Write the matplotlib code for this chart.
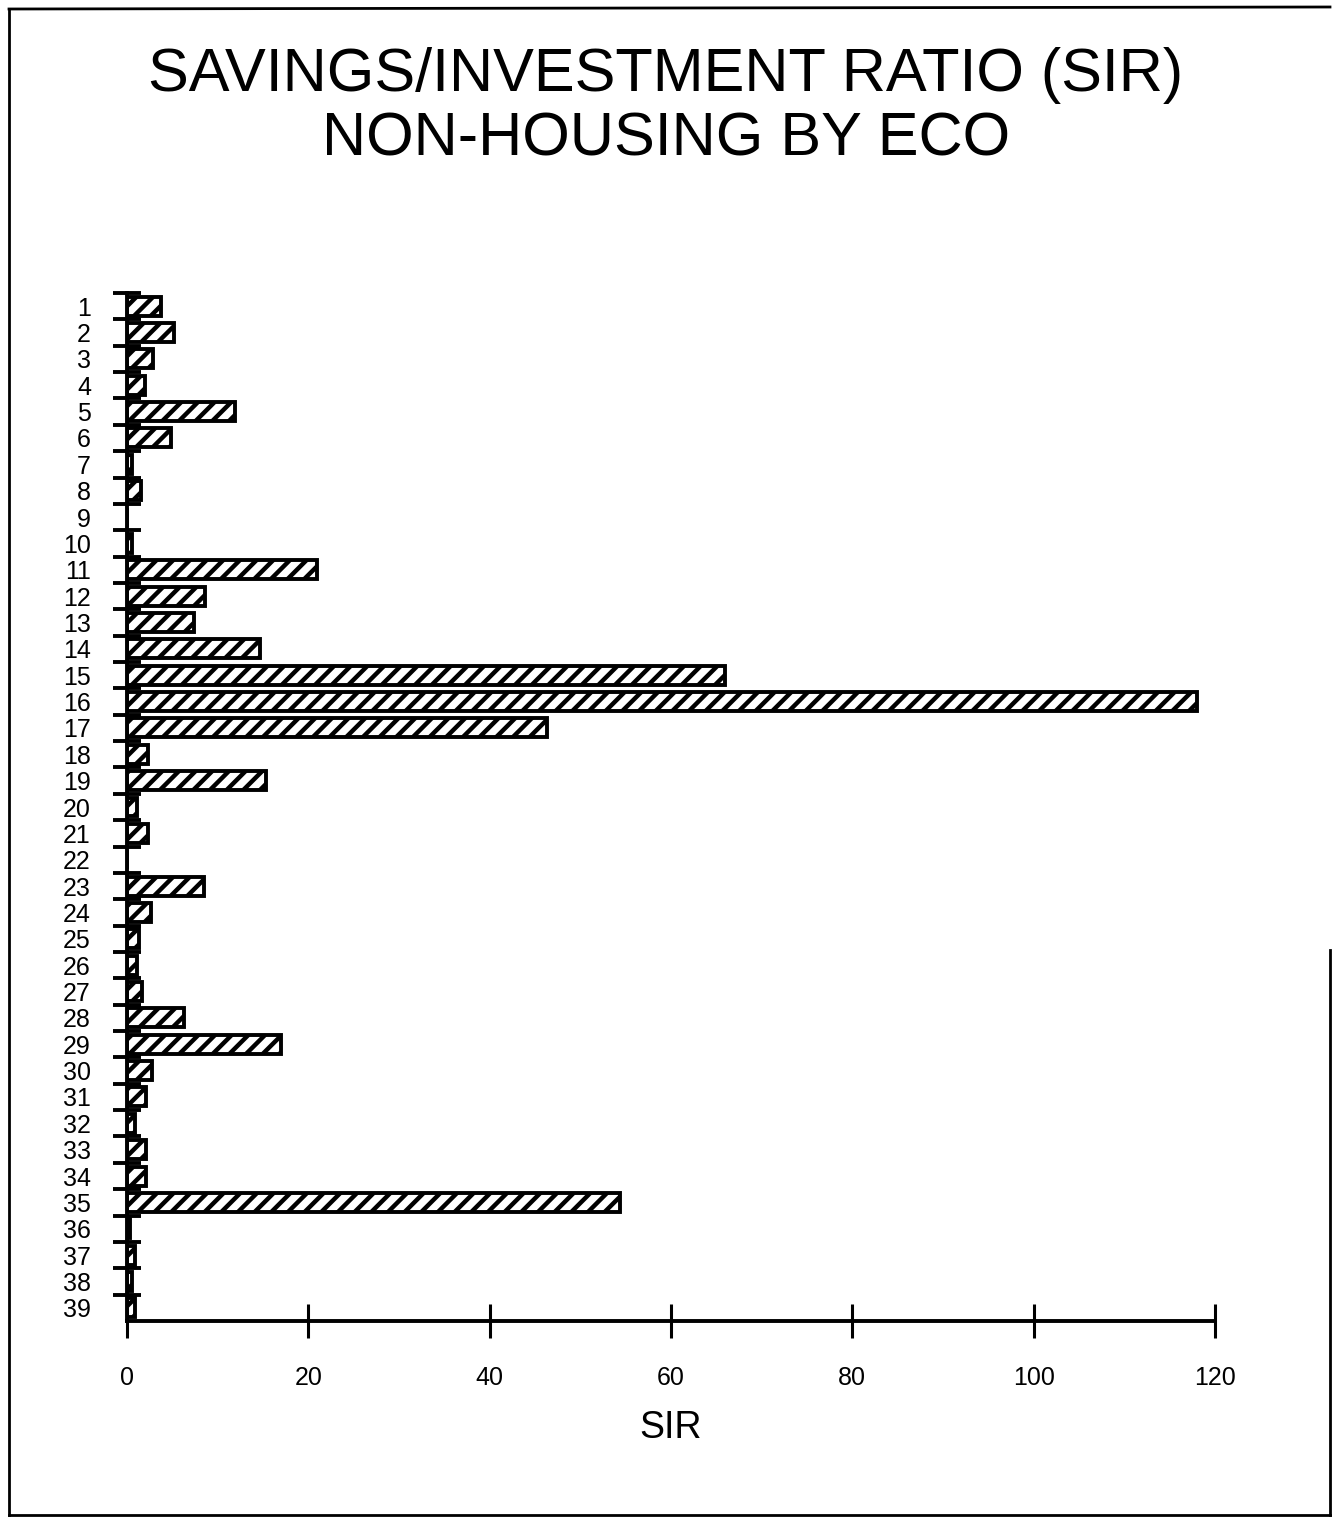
import numpy as np
import matplotlib
matplotlib.use("Agg")
import matplotlib.pyplot as plt
from matplotlib.lines import Line2D

plt.rcParams['font.family'] = ['Liberation Sans', 'DejaVu Sans']
plt.rcParams['hatch.linewidth'] = 3.2

# ECO numbers and their SIR values
eco = list(range(1, 40))
sir = [3.7, 5.2, 2.9, 2.0, 11.9, 4.9, 0.6, 1.5, 0.0, 0.5,
       21.0, 8.6, 7.4, 14.7, 66.0, 118.0, 46.3, 2.3, 15.3, 1.1,
       2.3, 0.0, 8.5, 2.6, 1.3, 1.1, 1.7, 6.3, 17.0, 2.8,
       2.1, 0.9, 2.1, 2.1, 54.4, 0.3, 0.9, 0.6, 0.9]
xticks = [0, 20, 40, 60, 80, 100, 120]

fig = plt.figure(figsize=(13.32, 15.18), dpi=100)
ax = fig.add_axes([127/1332, 1 - 1321/1518, (1215 - 127)/1332, (1321 - 293)/1518])

ax.barh(eco, sir, height=0.72, color='white', edgecolor='black',
        linewidth=2.8, hatch='//')

ax.set_xlim(0, 120)
ax.set_ylim(39.5, 0.5)

for s in ['top', 'right']:
    ax.spines[s].set_visible(False)
for s in ['left', 'bottom']:
    ax.spines[s].set_linewidth(2.8)

# ticks at category boundaries, labels at centres
ax.set_yticks(np.arange(0.5, 39, 1.0))
ax.set_yticklabels([])
ax.tick_params(axis='y', which='major', direction='inout', length=20, width=2.8)
ax.set_yticks(eco, minor=True)
ax.set_yticklabels([str(e) for e in eco], minor=True, fontsize=18)
ax.tick_params(axis='y', which='minor', length=0, pad=26)

ax.set_xticks(xticks)
ax.set_xticklabels([str(t) for t in xticks], fontsize=18)
ax.tick_params(axis='x', direction='inout', length=25, width=2.2, pad=20)

ax.set_xlabel('SIR', fontsize=27, labelpad=14)

fig.text(0.5, 1 - 75/1518, 'SAVINGS/INVESTMENT RATIO (SIR)', ha='center',
         va='center', fontsize=44)
fig.text(0.5, 1 - 140/1518, 'NON-HOUSING BY ECO', ha='center',
         va='center', fontsize=44)

# page frame
W, H = 1332, 1518
def fl(x0, y0, x1, y1):
    fig.add_artist(Line2D([x0/W, x1/W], [1 - y0/H, 1 - y1/H], color='black',
                          linewidth=2, transform=fig.transFigure))
fl(9, 9, 1330, 7)
fl(9, 9, 9, 1515)
fl(9, 1515, 1330, 1515)
fl(1330, 950, 1330, 1515)

fig.savefig('out.png', dpi=100)
